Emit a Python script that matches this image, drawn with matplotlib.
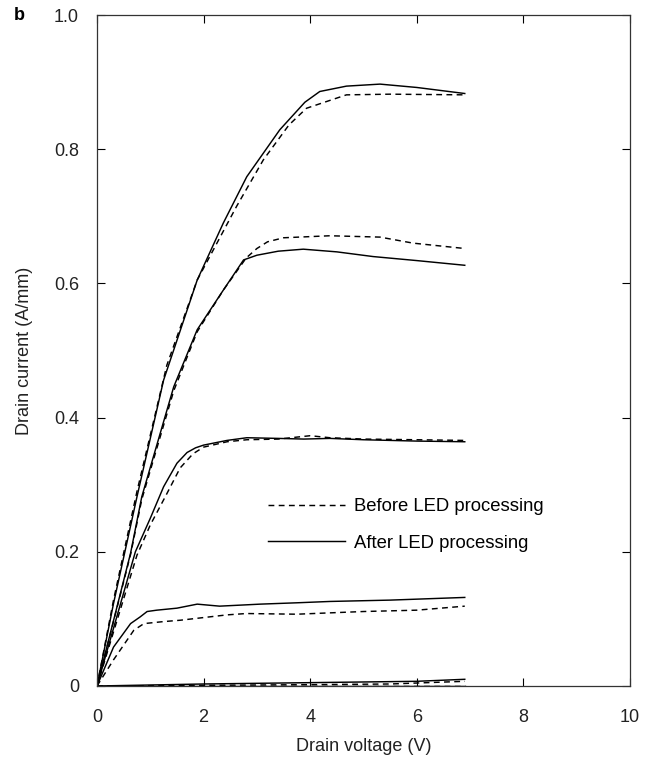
#!/usr/bin/env python3
import matplotlib
matplotlib.use("Agg")
from matplotlib import pyplot as plt

plt.rcParams["font.family"] = ["Liberation Sans", "DejaVu Sans"]

# drain voltage (V) / drain current (A/mm)
# one pair per gate voltage step: "before" is dashed, "after" is solid
v1_after = [0, 0.31, 0.75, 1.25, 1.88, 2.37, 2.81, 3.43, 3.9, 4.18, 4.68, 5.31, 6.0, 6.9]
i1_after = [0, 0.123, 0.282, 0.456, 0.605, 0.690, 0.759, 0.829, 0.870, 0.886, 0.894, 0.897, 0.892, 0.883]
v1_before = [0, 0.31, 0.75, 1.31, 1.88, 2.62, 3.12, 3.6, 3.93, 4.68, 5.5, 6.9]
i1_before = [0, 0.128, 0.290, 0.478, 0.605, 0.715, 0.784, 0.836, 0.861, 0.881, 0.882, 0.881]

v2_after = [0, 0.63, 0.84, 1.44, 1.88, 2.37, 2.75, 3.0, 3.4, 3.87, 4.5, 5.18, 6.0, 6.9]
i2_after = [0, 0.198, 0.282, 0.446, 0.531, 0.590, 0.635, 0.642, 0.648, 0.651, 0.647, 0.640, 0.634, 0.627]
v2_before = [0, 0.63, 0.84, 1.44, 1.88, 2.37, 2.8, 3.0, 3.2, 3.5, 4.37, 5.31, 5.93, 6.9]
i2_before = [0, 0.196, 0.278, 0.440, 0.528, 0.590, 0.638, 0.652, 0.662, 0.668, 0.671, 0.669, 0.660, 0.652]

v3_after = [0, 0.72, 1.0, 1.25, 1.5, 1.69, 1.85, 2.0, 2.44, 2.81, 3.4, 3.88, 4.37, 5.0, 6.0, 6.9]
i3_after = [0, 0.200, 0.250, 0.297, 0.332, 0.348, 0.355, 0.359, 0.366, 0.370, 0.369, 0.368, 0.369, 0.367, 0.365, 0.364]
v3_before = [0, 0.75, 1.0, 1.3, 1.56, 1.8, 2.0, 2.44, 2.81, 3.4, 4.0, 4.37, 5.0, 6.0, 6.9]
i3_before = [0, 0.195, 0.240, 0.285, 0.325, 0.346, 0.356, 0.364, 0.367, 0.368, 0.373, 0.370, 0.368, 0.367, 0.366]

v4_after = [0, 0.31, 0.63, 0.81, 0.94, 1.12, 1.5, 1.88, 2.3, 2.81, 3.06, 3.75, 4.37, 5.5, 6.9]
i4_after = [0, 0.058, 0.093, 0.103, 0.111, 0.113, 0.116, 0.122, 0.119, 0.121, 0.122, 0.124, 0.126, 0.128, 0.132]
v4_before = [0, 0.31, 0.69, 0.88, 1.25, 1.56, 2.0, 2.44, 2.8, 3.75, 4.37, 5.0, 6.0, 6.9]
i4_before = [0, 0.039, 0.083, 0.093, 0.096, 0.098, 0.102, 0.106, 0.108, 0.107, 0.109, 0.111, 0.113, 0.119]

v5_after = [0, 2, 4, 6, 6.9]
i5_after = [0, 0.003, 0.005, 0.007, 0.010]
v5_before = [0, 2, 4, 5.5, 6.9]
i5_before = [0, 0.001, 0.002, 0.003, 0.007]

v6 = [0, 6.9]
i6 = [0, 0]

after = [(v1_after, i1_after), (v2_after, i2_after), (v3_after, i3_after),
         (v4_after, i4_after), (v5_after, i5_after), (v6, i6)]
before = [(v1_before, i1_before), (v2_before, i2_before), (v3_before, i3_before),
          (v4_before, i4_before), (v5_before, i5_before), (v6, i6)]

x_ticks = [0, 2, 4, 6, 8, 10]
y_ticks = [0, 0.2, 0.4, 0.6, 0.8, 1.0]
y_tick_labels = ["0", "0.2", "0.4", "0.6", "0.8", "1.0"]

fs = 13
txt = "#222222"

fig = plt.figure(figsize=(6.57, 7.64), dpi=100)
ax = fig.add_axes([97 / 657, 78 / 764, 533 / 657, 671 / 764])

for k, (v, i) in enumerate(before):
    ax.plot(v, i, color="black", lw=1.05, dashes=(4, 3),
            label="Before LED processing" if k == 0 else None)
for k, (v, i) in enumerate(after):
    ax.plot(v, i, color="black", lw=1.05,
            label="After LED processing" if k == 0 else None)

ax.set_xlim(0, 10)
ax.set_ylim(0, 1.0)
ax.set_xticks(x_ticks)
ax.set_xticklabels([str(t) for t in x_ticks])
ax.set_yticks(y_ticks)
ax.set_yticklabels(y_tick_labels)
ax.tick_params(direction="in", length=6, width=0.8, top=True, right=True,
               labelsize=fs, labelcolor=txt)
ax.tick_params(axis="x", pad=16.5)
ax.tick_params(axis="y", pad=13)
for s in ax.spines.values():
    s.set_linewidth(0.9)
    s.set_color("#333333")

ax.set_xlabel("Drain voltage (V)", fontsize=fs, color=txt, labelpad=9)
ax.set_ylabel("Drain current (A/mm)", fontsize=fs, color=txt, labelpad=15)

ax.legend(loc="upper left", bbox_to_anchor=(0.321, 0.280), frameon=False,
          fontsize=13.3, handlelength=4.15, handletextpad=0.5, labelspacing=1.05,
          borderpad=0, borderaxespad=0)

fig.text(19 / 657, 1 - 16 / 764, "b", fontsize=fs, fontweight="bold",
         va="center", ha="center")

fig.savefig("out.png", dpi=100)
